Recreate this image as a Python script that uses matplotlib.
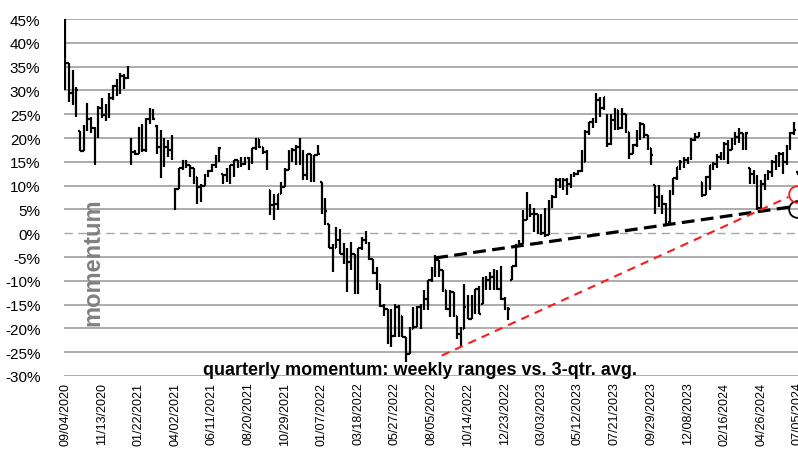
import numpy as np
import matplotlib
matplotlib.use("Agg")
import matplotlib.pyplot as plt

# weekly OHLC of quarterly momentum (%), one entry per week from 09/04/2020
opens = [40.0, 35.8, 29.4, 27.5, 21.5, 17.3, 22.5, 23.9, 22.2, 20.5,
         26.4, 24.9, 24.5, 28.4, 30.9, 29.4, 33.1, 32.6, 19.7, 17.0,
         16.7, 22.0, 17.4, 23.9, 25.9, 22.5, 18.1, 15.7, 18.1, 17.4,
         9.2, 9.2, 13.6, 15.2, 14.3, 13.6, 11.8, 9.7, 9.9, 12.2,
         13.1, 14.3, 16.0, 12.5, 12.2, 13.2, 14.3, 15.3, 15.0, 14.6,
         15.7, 15.0, 17.8, 19.7, 18.1, 17.1, 9.0, 5.9, 6.1, 8.3,
         9.7, 13.2, 15.3, 17.4, 18.1, 14.6, 12.2, 16.7, 12.5, 16.4,
         10.8, 4.5, 2.0, -3.2, -3.2, -1.5, -4.3, -6.1, -6.1, -4.3,
         -10.6, -3.2, -1.5, -2.0, -5.5, -8.4, -10.7, -15.2, -15.9, -18.0,
         -21.5, -15.6, -17.3, -21.8, -25.3, -20.1, -19.7, -15.5, -15.4, -13.8,
         -9.9, -8.2, -5.7, -7.8, -12.0, -15.9, -12.4, -17.3, -21.1, -20.1,
         -15.5, -18.0, -13.4, -11.7, -14.8, -9.5, -9.9, -9.2, -8.2, -11.7,
         -13.8, -15.9, -9.9, -6.8, -2.5, -2.2, 2.7, 5.9, 4.1, 4.1,
         0.3, 0.0, -0.4, 5.5, 7.6, 11.1, 10.8, 11.1, 10.4, 12.2,
         12.5, 13.0, 15.0, 21.3, 23.4, 23.4, 28.0, 26.2, 22.0, 18.8,
         23.8, 25.9, 22.0, 25.1, 21.3, 16.7, 18.5, 21.3, 23.0, 20.6,
         17.8, 10.1, 7.6, 7.8, 6.1, 2.4, 8.3, 11.5, 13.9, 15.0,
         15.3, 15.7, 19.55, 20.2, 10.8, 8.0, 11.8, 14.3, 14.6, 16.0,
         16.7, 18.8, 17.4, 19.2, 20.2, 21.0, 17.8, 13.6, 12.5, 11.8,
         5.2, 10.4, 12.2, 12.9, 15.0, 16.0, 16.7, 15.0, 17.8, 21.0,
         12.8]
highs = [45.0, 35.8, 34.2, 30.7, 21.5, 22.7, 27.3, 24.5, 22.4, 26.8,
         28.3, 27.2, 29.4, 31.2, 32.4, 33.6, 33.5, 35.2, 19.9, 17.4,
         22.4, 23.0, 24.1, 26.2, 26.0, 22.7, 21.6, 19.9, 19.6, 20.6,
         9.4, 13.6, 15.3, 15.3, 14.3, 13.6, 11.8, 10.4, 12.5, 13.2,
         14.6, 16.4, 18.1, 12.5, 13.6, 14.3, 15.3, 15.3, 16.0, 16.0,
         16.0, 17.8, 19.9, 19.7, 18.1, 17.4, 9.0, 8.3, 8.3, 10.8,
         13.6, 17.4, 17.8, 18.5, 20.0, 17.4, 16.7, 16.7, 16.4, 18.5,
         10.8, 7.3, 2.0, -2.2, 1.2, 0.9, -2.0, -3.2, -1.8, -4.3,
         -3.2, -0.8, 0.5, -1.8, -5.4, -7.1, -10.6, -14.8, -15.9, -15.9,
         -14.8, -15.0, -17.3, -21.8, -19.7, -15.5, -15.2, -14.8, -12.0, -9.9,
         -7.1, -4.6, -5.7, -7.8, -12.0, -12.0, -12.4, -17.3, -19.7, -10.6,
         -13.0, -13.0, -11.7, -11.0, -9.2, -8.9, -8.2, -7.5, -7.8, -6.8,
         -13.4, -15.5, -6.8, -2.2, -1.5, 4.8, 8.7, 6.2, 5.3, 4.1,
         4.1, 5.2, 7.0, 8.0, 11.5, 11.5, 11.5, 11.5, 12.5, 12.9,
         13.2, 17.4, 21.6, 23.4, 24.1, 29.4, 28.7, 28.7, 25.1, 25.1,
         26.2, 25.9, 26.2, 25.1, 21.3, 18.8, 21.6, 23.4, 23.0, 20.6,
         17.8, 10.1, 10.1, 8.0, 6.3, 9.0, 11.5, 14.0, 15.3, 16.0,
         16.0, 19.9, 21.0, 21.3, 10.8, 12.0, 14.3, 15.0, 16.7, 17.1,
         19.2, 19.5, 19.9, 21.3, 22.0, 21.0, 21.3, 13.6, 13.2, 12.2,
         11.1, 12.5, 13.2, 15.3, 16.4, 17.1, 17.1, 18.5, 21.3, 23.4,
         13.0]
lows = [30.0, 27.5, 27.0, 24.5, 17.2, 17.2, 21.4, 21.0, 14.3, 20.1,
        24.3, 23.6, 24.2, 28.0, 28.9, 29.2, 30.3, 32.4, 14.3, 16.4,
        16.7, 17.1, 17.0, 23.0, 23.8, 16.7, 11.5, 13.9, 16.0, 15.3,
        4.8, 9.2, 13.2, 13.6, 11.8, 10.4, 6.2, 6.6, 9.9, 11.8,
        12.9, 13.6, 15.0, 10.4, 10.8, 10.4, 11.8, 13.6, 13.9, 14.3,
        13.2, 14.6, 17.5, 17.8, 16.7, 13.2, 3.8, 2.7, 4.8, 8.3,
        9.7, 13.2, 15.0, 14.3, 14.3, 11.1, 11.1, 10.8, 10.8, 16.4,
        4.1, 1.7, -3.2, -8.2, -3.2, -4.3, -6.5, -12.4, -7.8, -12.7,
        -12.7, -3.6, -2.2, -5.6, -8.5, -12.0, -15.5, -17.3, -23.2, -23.9,
        -21.8, -21.8, -21.8, -27.1, -25.3, -20.1, -19.7, -20.1, -16.2, -16.2,
        -10.3, -9.2, -9.2, -12.4, -16.2, -17.6, -17.6, -22.2, -23.6, -20.1,
        -18.0, -18.0, -17.0, -17.0, -14.8, -12.0, -12.0, -12.0, -12.0, -14.1,
        -16.2, -18.3, -9.9, -7.1, -2.9, -2.2, 2.7, 3.4, 0.3, -0.1,
        -0.4, -0.8, -0.4, 5.2, 7.3, 9.4, 9.1, 8.0, 9.4, 11.8,
        12.2, 12.9, 15.0, 20.6, 22.0, 23.1, 24.5, 25.8, 18.1, 18.5,
        21.6, 21.6, 21.9, 21.0, 15.5, 16.7, 18.1, 19.6, 19.9, 17.4,
        14.3, 4.1, 5.6, 4.1, 2.0, 2.0, 8.0, 11.1, 13.2, 13.6,
        14.6, 15.3, 19.3, 20.2, 7.6, 8.0, 9.0, 13.2, 13.6, 15.3,
        15.3, 14.6, 17.4, 18.5, 19.0, 17.4, 17.4, 10.4, 10.4, 4.8,
        4.8, 9.0, 11.1, 11.8, 13.2, 14.0, 12.5, 14.3, 17.4, 20.6,
        12.3]
closes = [35.8, 29.4, 27.5, 30.1, 17.3, 22.5, 23.9, 22.2, 15.5, 26.4,
          24.9, 24.5, 28.4, 30.9, 29.4, 33.1, 32.6, 34.8, 17.0, 16.7,
          22.0, 17.4, 23.9, 25.9, 23.9, 18.1, 15.7, 18.1, 17.4, 17.4,
          9.2, 13.6, 15.2, 14.3, 13.6, 12.5, 9.7, 9.9, 12.2, 13.1,
          14.3, 16.0, 17.8, 12.2, 13.2, 14.3, 15.3, 15.0, 14.6, 15.7,
          15.0, 17.8, 19.7, 18.1, 17.1, 17.1, 5.9, 6.1, 8.3, 9.7,
          13.2, 15.3, 17.4, 18.1, 14.6, 12.2, 16.7, 12.5, 16.4, 16.6,
          4.5, 4.7, -3.2, -3.2, -1.5, -4.3, -6.1, -6.1, -4.3, -10.6,
          -3.2, -1.5, -2.0, -5.5, -8.4, -10.7, -15.2, -15.9, -18.0, -21.5,
          -15.6, -17.3, -21.8, -25.3, -20.1, -19.7, -15.5, -15.4, -13.8, -9.9,
          -8.2, -5.7, -7.8, -12.0, -15.9, -12.4, -17.3, -21.1, -23.6, -15.5,
          -18.0, -13.4, -11.7, -16.9, -9.5, -9.9, -9.2, -8.2, -11.7, -13.8,
          -15.9, -15.9, -6.8, -2.5, -2.2, 2.7, 5.9, 4.1, 4.1, 0.3,
          0.0, -0.4, 5.5, 7.6, 11.1, 10.8, 11.1, 10.4, 12.2, 12.5,
          13.0, 15.0, 21.3, 23.4, 23.4, 28.0, 26.2, 28.7, 18.8, 23.8,
          25.9, 22.0, 25.1, 21.3, 16.7, 18.5, 21.3, 23.0, 20.6, 17.8,
          16.4, 7.6, 7.8, 6.1, 2.4, 8.3, 11.5, 13.9, 15.0, 15.3,
          15.7, 19.55, 20.2, 21.0, 8.0, 11.8, 14.3, 14.6, 16.0, 16.7,
          18.8, 17.4, 19.2, 20.2, 21.0, 17.8, 21.0, 12.5, 11.8, 5.2,
          10.4, 12.2, 12.9, 15.0, 16.0, 16.7, 15.0, 17.8, 21.0, 21.6,
          12.8]

tick_labels = ["09/04/2020", "11/13/2020", "01/22/2021", "04/02/2021", "06/11/2021",
               "08/20/2021", "10/29/2021", "01/07/2022", "03/18/2022", "05/27/2022",
               "08/05/2022", "10/14/2022", "12/23/2022", "03/03/2023", "05/12/2023",
               "07/21/2023", "09/29/2023", "12/08/2023", "02/16/2024", "04/26/2024",
               "07/05/2024"]

# trend lines (week index, %)
black_trend_x = [101, 198]
black_trend_y = [-5.2, 5.5]
red_trend_x = [102.8, 197.5]
red_trend_y = [-25.7, 7.6]
black_circle = (199.8, 5.0)
red_circle = (199.8, 8.3)

plt.rcParams['font.family'] = ['Liberation Sans', 'DejaVu Sans']

fig = plt.figure(figsize=(7.98, 4.6), dpi=100)
ax = fig.add_axes([64 / 798, 1 - 377 / 460, 734 / 798, 357 / 460])

x = np.arange(len(closes))
w = 0.45
ax.vlines(x, lows, highs, color="black", lw=1.6, zorder=3)
ax.hlines(opens, x - w, x, color="black", lw=1.6, zorder=3)
ax.hlines(closes, x, x + w, color="black", lw=1.6, zorder=3)

ax.plot(black_trend_x, black_trend_y, color="black", lw=2.3, dashes=(4, 2), zorder=4)
ax.plot(red_trend_x, red_trend_y, color="#ff1a1a", lw=1.5, dashes=(4, 3), zorder=4)
ax.plot(*black_circle, marker="o", ms=12, mfc="none", mec="black", mew=1.3, clip_on=False, zorder=5)
ax.plot(*red_circle, marker="o", ms=12, mfc="none", mec="#ff1a1a", mew=1.3, clip_on=False, zorder=5)

ax.set_xlim(-0.4, 200.1)
ax.set_ylim(-30, 45)
ax.set_yticks(np.arange(-30, 46, 5))
ax.set_yticklabels([f"{v}%" for v in range(-30, 46, 5)], fontsize=11)
ax.set_xticks(np.arange(0, 201, 10))
ax.set_xticklabels(tick_labels, rotation=90, fontsize=9)
ax.tick_params(axis="both", length=0)
ax.tick_params(axis="y", pad=17)
ax.tick_params(axis="x", pad=4)

ax.grid(axis="y", color="#a6a6a6", lw=1.3)
for val, gl in zip(ax.get_yticks(), ax.get_ygridlines()):
    if val == 0:
        gl.set_linestyle((0, (6, 4)))
        gl.set_linewidth(1.0)
ax.set_axisbelow(True)
for s in ax.spines.values():
    s.set_visible(False)

fig.text(93 / 798, 1 - 262 / 460, "momentum", rotation=90, ha="center", va="center",
         color="#808080", fontsize=17, fontweight="bold")
fig.text(420 / 798, 1 - 371 / 460, "quarterly momentum: weekly ranges vs. 3-qtr. avg.",
         ha="center", va="center", fontsize=13, fontweight="bold", color="black")

fig.savefig("out.png", dpi=100)
